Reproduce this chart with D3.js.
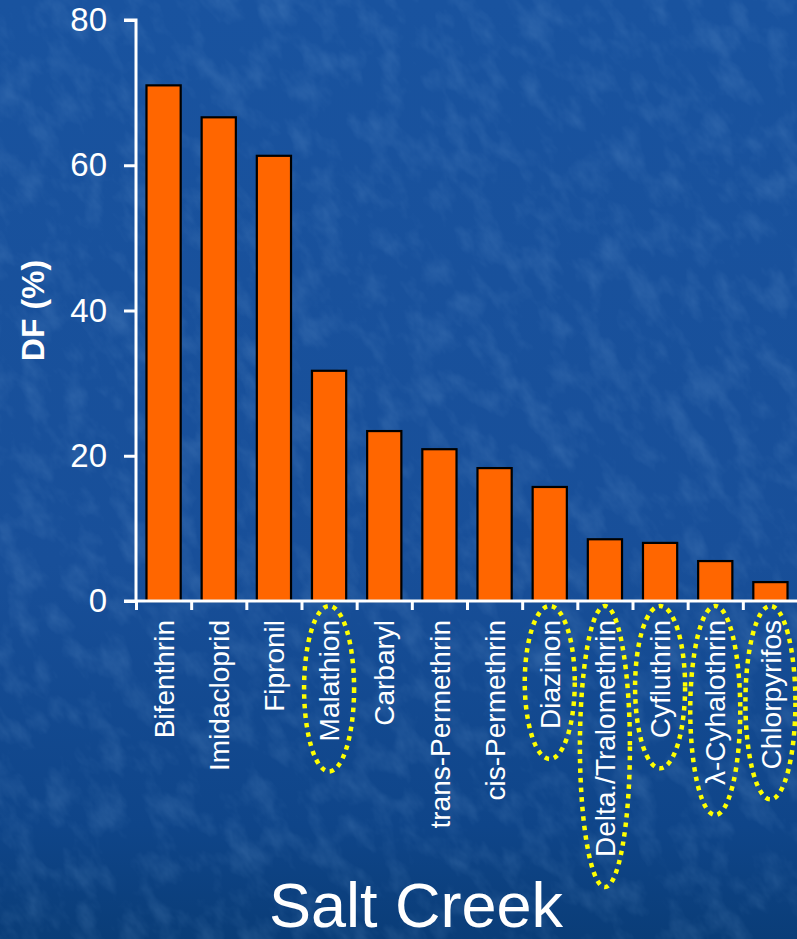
<!DOCTYPE html>
<html>
<head>
<meta charset="utf-8">
<script src="https://cdn.jsdelivr.net/npm/d3@7/dist/d3.min.js"></script>
<style>
  html, body { margin: 0; padding: 0; background: #123f80; }
  svg { display: block; }
</style>
</head>
<body>
<svg id="chart" width="797" height="939"></svg>
<script>
// ---- data ----
const categories = ["Bifenthrin", "Imidacloprid", "Fipronil", "Malathion", "Carbaryl",
  "trans-Permethrin", "cis-Permethrin", "Diazinon", "Delta./Tralomethrin",
  "Cyfluthrin", "λ-Cyhalothrin", "Chlorpyrifos"];
const dfValues = [71.0, 66.6, 61.3, 31.7, 23.4, 20.9, 18.3, 15.7, 8.5, 8.0, 5.5, 2.6];
const highlighted = ["Malathion", "Diazinon", "Delta./Tralomethrin", "Cyfluthrin",
  "λ-Cyhalothrin", "Chlorpyrifos"];
const yTicks = [0, 20, 40, 60, 80];
const yLabel = "DF (%)";
const title = "Salt Creek";

// ---- layout ----
const W = 797, H = 939;
const margin = { left: 136, right: -1, top: 20, bottom: 338 };
const svg = d3.select("#chart");
const defs = svg.append("defs");

// background gradient + texture
const grad = defs.append("linearGradient").attr("id", "bg")
  .attr("x1", 0).attr("y1", 0).attr("x2", 0).attr("y2", 1);
grad.append("stop").attr("offset", "0%").attr("stop-color", "#19539f");
grad.append("stop").attr("offset", "60%").attr("stop-color", "#184f99");
grad.append("stop").attr("offset", "88%").attr("stop-color", "#0f4589");
grad.append("stop").attr("offset", "100%").attr("stop-color", "#0a3d78");

const filt = defs.append("filter").attr("id", "tex")
  .attr("x", 0).attr("y", 0).attr("width", "100%").attr("height", "100%");
filt.append("feTurbulence").attr("type", "fractalNoise")
  .attr("baseFrequency", "0.045 0.025").attr("numOctaves", 4).attr("seed", 11).attr("result", "n");
filt.append("feColorMatrix").attr("in", "n").attr("type", "matrix")
  .attr("values", "0 0 0 0 0.25  0 0 0 0 0.47  0 0 0 0 0.78  1.8 0 0 0 -0.8");

svg.append("rect").attr("width", W).attr("height", H).attr("fill", "url(#bg)");
svg.append("g").attr("transform", "rotate(-35 400 470)")
  .append("rect").attr("x", -400).attr("y", -400).attr("width", 1600).attr("height", 1700)
  .attr("filter", "url(#tex)").attr("opacity", 0.22);

// scales
const x = d3.scaleBand().domain(categories)
  .range([margin.left, W - margin.right]).paddingInner(0.38).paddingOuter(0.19);
const xEdges = d3.scaleLinear().domain([0, categories.length])
  .range([margin.left, W - margin.right]);
const y = d3.scaleLinear().domain([0, 80]).range([H - margin.bottom, margin.top]);

// bars
svg.append("g").selectAll("rect").data(categories).join("rect")
  .attr("x", d => x(d))
  .attr("y", (d, i) => y(dfValues[i]))
  .attr("width", x.bandwidth())
  .attr("height", (d, i) => y(0) - y(dfValues[i]))
  .attr("fill", "#ff6600")
  .attr("stroke", "#000")
  .attr("stroke-width", 2.2);

// y axis
const yAxis = svg.append("g").attr("transform", `translate(${margin.left},0)`)
  .call(d3.axisLeft(y).tickValues(yTicks).tickSize(12).tickPadding(17));
yAxis.select(".domain").attr("stroke", "#fff").attr("stroke-width", 3)
  .attr("d", `M-12,${y(80)}H0V${y(0)}`);
yAxis.selectAll(".tick line").attr("stroke", "#fff").attr("stroke-width", 3);
yAxis.selectAll(".tick text").attr("fill", "#fff")
  .style("font-family", "Arial, 'Liberation Sans', sans-serif").style("font-size", "33px");

// x axis (ticks at band boundaries)
const xAxis = svg.append("g").attr("transform", `translate(0,${y(0)})`)
  .call(d3.axisBottom(xEdges).tickValues(d3.range(0, categories.length + 1)).tickSize(9).tickFormat(""));
xAxis.select(".domain").attr("stroke", "#fff").attr("stroke-width", 3)
  .attr("d", `M${margin.left - 12},0H${W}`);
xAxis.selectAll(".tick line").attr("stroke", "#fff").attr("stroke-width", 3);

// category labels
const labelTop = y(0) + 19;
const labels = svg.append("g").selectAll("text").data(categories).join("text")
  .attr("transform", d => `translate(${x(d) + x.bandwidth() / 2},${labelTop}) rotate(-90)`)
  .attr("text-anchor", "end")
  .attr("dy", "0.36em")
  .attr("fill", "#fff")
  .style("font-family", "Arial, 'Liberation Sans', sans-serif")
  .style("font-size", "28px")
  .text(d => d);

// dotted yellow ellipses around highlighted labels
const ellG = svg.append("g");
labels.each(function (d) {
  if (!highlighted.includes(d)) return;
  const len = this.getComputedTextLength();
  const top = y(0) + 5;
  const bottom = labelTop + len + 30;
  ellG.append("ellipse")
    .attr("cx", x(d) + x.bandwidth() / 2)
    .attr("cy", (top + bottom) / 2)
    .attr("rx", 25)
    .attr("ry", (bottom - top) / 2)
    .attr("fill", "none")
    .attr("stroke", "#ffff00")
    .attr("stroke-width", 4.5)
    .attr("stroke-dasharray", "4.5 5");
});

// y label
svg.append("text")
  .attr("transform", `translate(32,${(y(0) + y(80)) / 2}) rotate(-90)`)
  .attr("text-anchor", "middle").attr("dy", "0.36em")
  .attr("fill", "#fff")
  .style("font-family", "Arial, 'Liberation Sans', sans-serif")
  .style("font-size", "32px").style("font-weight", "bold")
  .text(yLabel);

// title
svg.append("text")
  .attr("x", 416).attr("y", 927)
  .attr("text-anchor", "middle")
  .attr("fill", "#fff")
  .style("font-family", "Arial, 'Liberation Sans', sans-serif")
  .style("font-size", "63px")
  .text(title);
</script>
</body>
</html>
